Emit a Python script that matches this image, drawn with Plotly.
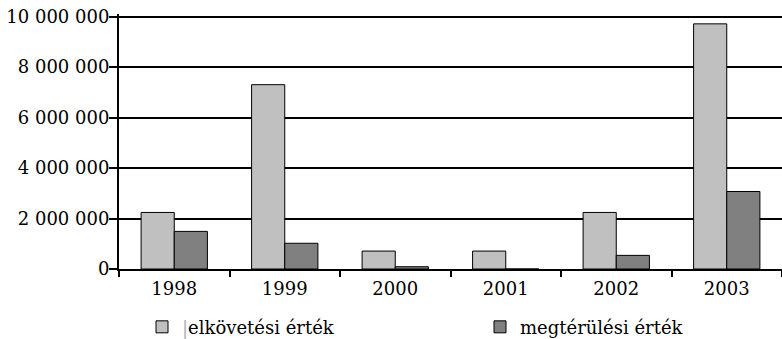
import plotly.graph_objects as go

years = ["1998", "1999", "2000", "2001", "2002", "2003"]
elkovetesi = [2240000, 7300000, 710000, 710000, 2240000, 9710000]
megterulesi = [1490000, 1020000, 90000, 0, 540000, 3070000]
tick_vals = [0, 2000000, 4000000, 6000000, 8000000, 10000000]
tick_text = ["0", "2 000 000", "4 000 000", "6 000 000", "8 000 000", "10 000 000"]

FONT = "DejaVu Serif"
FS = 18

fig = go.Figure()
fig.add_trace(go.Bar(
    x=years, y=elkovetesi,
    name='<span style="color:#b0b0b0">|</span>elkövetési érték',
    marker=dict(color="#C0C0C0", line=dict(color="#000000", width=1)),
    legend="legend",
))
fig.add_trace(go.Bar(
    x=years, y=megterulesi,
    name="megtérülési érték",
    marker=dict(color="#808080", line=dict(color="#000000", width=1)),
    legend="legend2",
))

legend_common = dict(
    orientation="h", xanchor="left", y=-0.228, yanchor="middle",
    font=dict(family=FONT, size=FS, color="black"),
    bgcolor="rgba(0,0,0,0)",
)

fig.update_layout(
    width=782, height=339,
    margin=dict(l=119, r=0, t=13.5, b=70, autoexpand=False),
    paper_bgcolor="white", plot_bgcolor="white",
    barmode="group", bargap=0.4, bargroupgap=0,
    font=dict(family=FONT, size=FS, color="black"),
    showlegend=True,
    legend=dict(x=0.0347, **legend_common),
    legend2=dict(x=0.5445, **legend_common),
    xaxis=dict(
        showline=True, linecolor="black", linewidth=2,
        ticks="outside", tickson="boundaries", ticklen=6, tickwidth=2, tickcolor="black",
        showgrid=False, zeroline=False,
        ticklabelstandoff=2,
        tickfont=dict(family=FONT, size=FS),
    ),
    yaxis=dict(
        range=[0, 10100000],
        tickvals=tick_vals, ticktext=tick_text,
        showline=True, linecolor="black", linewidth=2,
        ticks="outside", ticklen=8, tickwidth=2, tickcolor="black",
        showgrid=True, gridcolor="black", gridwidth=2,
        zeroline=False,
        ticklabelstandoff=-4,
        ticklabeloverflow="allow",
        tickfont=dict(family=FONT, size=FS),
    ),
)

# remove the browser's default 8px body margin so the figure fills the window
fig.write_html(
    "out.html",
    config={"displayModeBar": False},
    post_script="document.body.style.margin='0';",
)
